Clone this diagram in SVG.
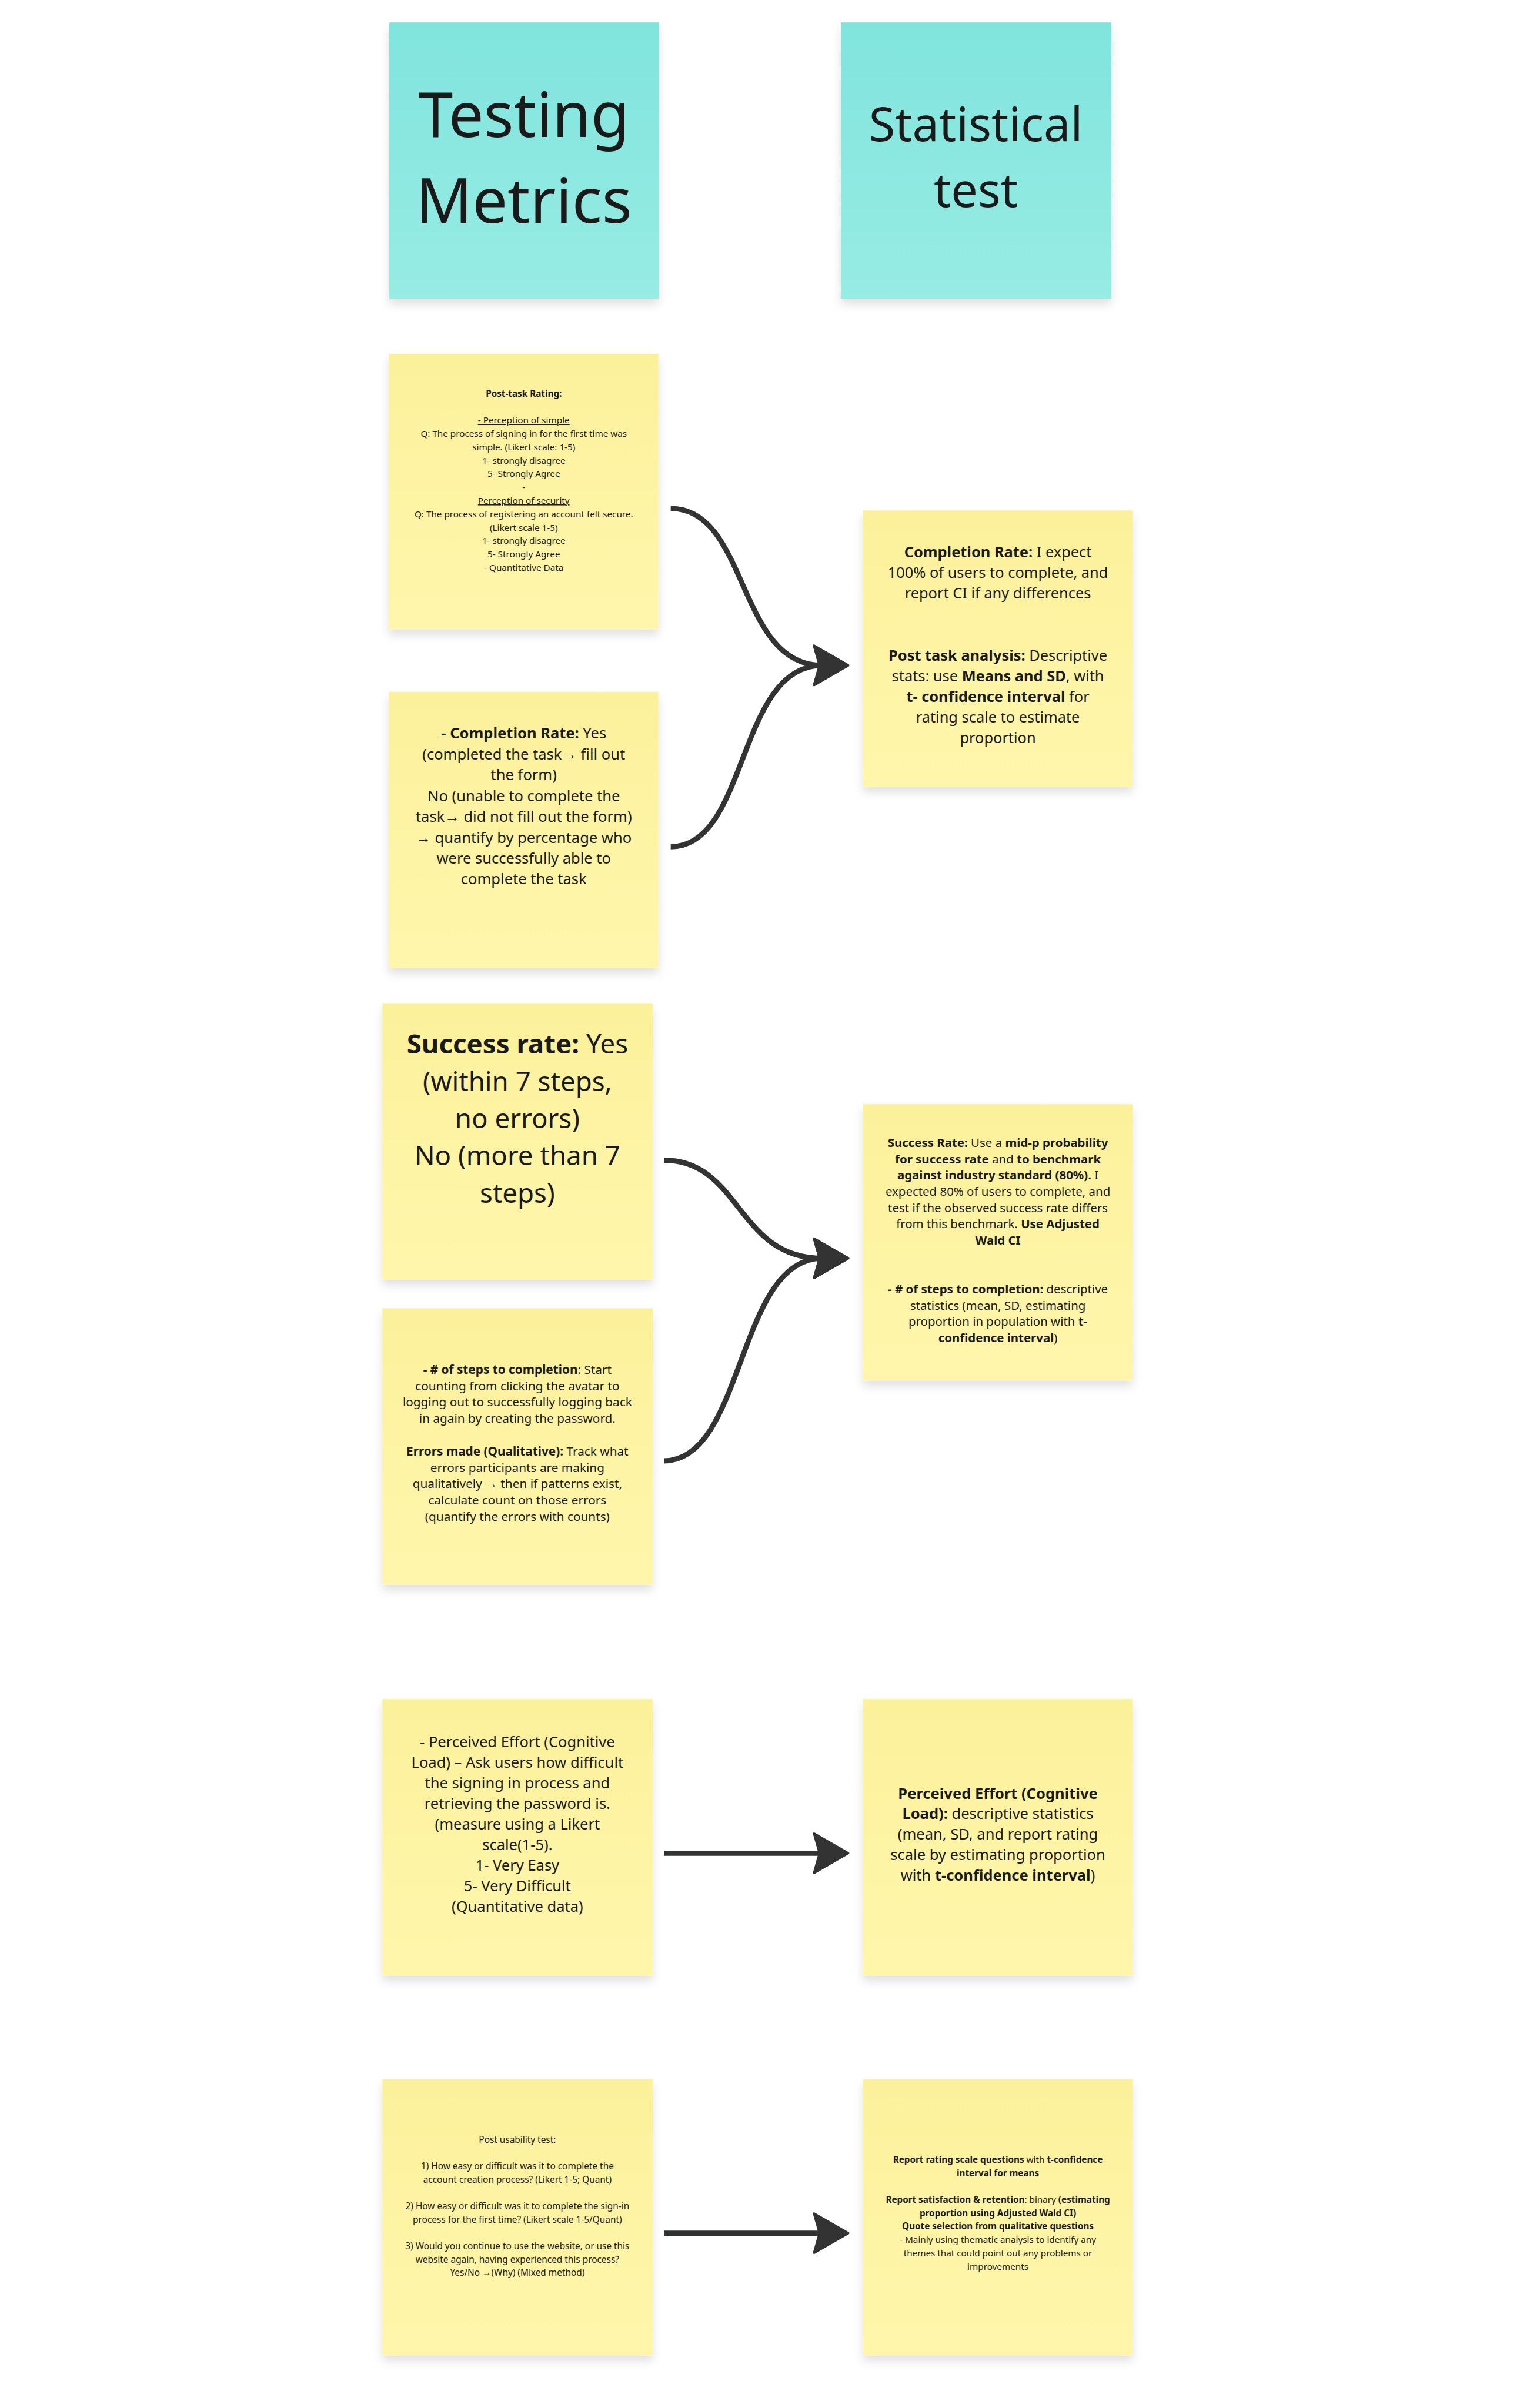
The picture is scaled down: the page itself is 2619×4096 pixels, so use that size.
<svg xmlns="http://www.w3.org/2000/svg" width="2619" height="4096" viewBox="0 0 2619 4096">
<defs>
<style>
.sy{fill:url(#gy);filter:url(#sh)}
.sc{fill:url(#gc);filter:url(#sh)}
text{font-family:"Noto Sans","Open Sans",sans-serif;fill:#1a1a1a;text-anchor:middle}
.b{font-weight:700}
.u{text-decoration:underline}
.c{fill:none;stroke:#333;stroke-width:13;marker-end:url(#ah)}
</style>
<linearGradient id="gy" x1="0" y1="0" x2="0" y2="1"><stop offset="0" stop-color="#FBF19B"/><stop offset="1" stop-color="#FFF6AC"/></linearGradient>
<linearGradient id="gc" x1="0" y1="0" x2="0" y2="1"><stop offset="0" stop-color="#80E4DD"/><stop offset="1" stop-color="#97ECE4"/></linearGradient>
<filter id="sh" x="-10%" y="-10%" width="120%" height="125%"><feDropShadow dx="0" dy="14" stdDeviation="12" flood-color="#000" flood-opacity="0.12"/></filter>
<marker id="ah" markerUnits="userSpaceOnUse" viewBox="-95 -60 105 120" markerWidth="105" markerHeight="120" refX="-65" refY="0" orient="auto" overflow="visible">
<path d="M0,0 L-85,-49 L-71,0 L-85,49 Z" fill="#333" stroke="#333" stroke-width="6" stroke-linejoin="round"/>
</marker>
</defs>
<rect width="2619" height="4096" fill="#fff"/>
<g transform="scale(0.681)">
<g id="header-testing-metrics">
<rect class="sc" x="972" y="56" width="673" height="690"/>
<text x="1308" y="342" font-size="156">Testing</text>
<text x="1308" y="557" font-size="156">Metrics</text>
</g>
<g id="header-statistical-test">
<rect class="sc" x="2100" y="56" width="675" height="690"/>
<text x="2437" y="353" font-size="119">Statistical</text>
<text x="2437" y="517" font-size="119">test</text>
</g>
<g id="post-task-rating" font-size="22.4">
<rect class="sy" x="971" y="884" width="673" height="688"/>
<text x="1308" y="991" class="b">Post-task Rating:</text>
<text x="1308" y="1058" class="u">- Perception of simple </text>
<text x="1308" y="1091">Q: The process of signing in for the first time was</text>
<text x="1308" y="1124.5">simple. (Likert scale: 1-5)</text>
<text x="1308" y="1158">1- strongly disagree</text>
<text x="1308" y="1191.5">5- Strongly Agree</text>
<text x="1308" y="1225">-</text>
<text x="1308" y="1258.5" class="u">Perception of security</text>
<text x="1308" y="1292">Q: The process of registering an account felt secure.</text>
<text x="1308" y="1325.5">(Likert scale 1-5)</text>
<text x="1308" y="1359">1- strongly disagree</text>
<text x="1308" y="1392">5- Strongly Agree</text>
<text x="1308" y="1425.5">- Quantitative Data</text>
</g>
<g id="completion-rate" font-size="37.5">
<rect class="sy" x="971" y="1728" width="673" height="690"/>
<text x="1308" y="1845"><tspan class="b">- Completion Rate:</tspan> Yes</text>
<text x="1308" y="1897">(completed the task→ fill out</text>
<text x="1308" y="1949">the form)</text>
<text x="1308" y="2001">No (unable to complete the</text>
<text x="1308" y="2053">task→ did not fill out the form)</text>
<text x="1308" y="2105">→ quantify by percentage who</text>
<text x="1308" y="2157">were successfully able to</text>
<text x="1308" y="2209">complete the task</text>
</g>
<g id="stat-completion" font-size="37.3">
<rect class="sy" x="2155" y="1275" width="673" height="690"/>
<text x="2492" y="1392"><tspan class="b">Completion Rate:</tspan> I expect</text>
<text x="2492" y="1443.6">100% of users to complete, and</text>
<text x="2492" y="1495.2">report CI if any differences</text>
<text x="2492" y="1650"><tspan class="b">Post task analysis:</tspan> Descriptive</text>
<text x="2492" y="1701.6">stats: use <tspan class="b">Means and SD</tspan>, with</text>
<text x="2492" y="1753.2"><tspan class="b">t- confidence interval</tspan> for</text>
<text x="2492" y="1804.8">rating scale to estimate</text>
<text x="2492" y="1856.4">proportion</text>
</g>
<g id="success-rate" font-size="67">
<rect class="sy" x="955" y="2506" width="675" height="690"/>
<text x="1292" y="2632"><tspan class="b">Success rate:</tspan> Yes</text>
<text x="1292" y="2725">(within 7 steps,</text>
<text x="1292" y="2818">no errors)</text>
<text x="1292" y="2911">No (more than 7</text>
<text x="1292" y="3004">steps)</text>
</g>
<g id="stat-success" font-size="30">
<rect class="sy" x="2155" y="2758" width="673" height="690"/>
<text x="2492" y="2865"><tspan class="b">Success Rate:</tspan> Use a <tspan class="b">mid-p probability</tspan></text>
<text x="2492" y="2905.6"><tspan class="b">for success rate</tspan> and <tspan class="b">to benchmark</tspan></text>
<text x="2492" y="2946.2"><tspan class="b">against industry standard (80%).</tspan> I</text>
<text x="2492" y="2986.8">expected 80% of users to complete, and</text>
<text x="2492" y="3027.4">test if the observed success rate differs</text>
<text x="2492" y="3068">from this benchmark. <tspan class="b">Use Adjusted</tspan></text>
<text x="2492" y="3108.6" class="b">Wald CI</text>
<text x="2492" y="3230.4"><tspan class="b">- # of steps to completion:</tspan> descriptive</text>
<text x="2492" y="3271">statistics (mean, SD, estimating</text>
<text x="2492" y="3311.6">proportion in population with <tspan class="b">t-</tspan></text>
<text x="2492" y="3352.2"><tspan class="b">confidence interval</tspan>)</text>
</g>
<g id="steps-errors" font-size="30.5">
<rect class="sy" x="955" y="3268" width="675" height="690"/>
<text x="1292" y="3431.6"><tspan class="b">- # of steps to completion</tspan>: Start</text>
<text x="1292" y="3472.4">counting from clicking the avatar to</text>
<text x="1292" y="3513.2">logging out to successfully logging back</text>
<text x="1292" y="3554">in again by creating the password.</text>
<text x="1292" y="3635.6"><tspan class="b">Errors made (Qualitative):</tspan> Track what</text>
<text x="1292" y="3676.4">errors participants are making</text>
<text x="1292" y="3717.2">qualitatively → then if patterns exist,</text>
<text x="1292" y="3758">calculate count on those errors</text>
<text x="1292" y="3798.8">(quantify the errors with counts)</text>
</g>
<g id="perceived-effort" font-size="37.5">
<rect class="sy" x="955" y="4244" width="675" height="690"/>
<text x="1292" y="4363.6">- Perceived Effort (Cognitive</text>
<text x="1292" y="4415.1">Load) – Ask users how difficult</text>
<text x="1292" y="4466.6">the signing in process and</text>
<text x="1292" y="4518.1">retrieving the password is.</text>
<text x="1292" y="4569.6">(measure using a Likert</text>
<text x="1292" y="4621.1">scale(1-5).</text>
<text x="1292" y="4672.6">1- Very Easy</text>
<text x="1292" y="4724.1">5- Very Difficult</text>
<text x="1292" y="4775.6">(Quantitative data)</text>
</g>
<g id="stat-effort" font-size="37.5">
<rect class="sy" x="2155" y="4244" width="673" height="690"/>
<text x="2492" y="4492.7" class="b">Perceived Effort (Cognitive</text>
<text x="2492" y="4543.9"><tspan class="b">Load):</tspan> descriptive statistics</text>
<text x="2492" y="4595.1">(mean, SD, and report rating</text>
<text x="2492" y="4646.3">scale by estimating proportion</text>
<text x="2492" y="4697.5">with <tspan class="b">t-confidence interval</tspan>)</text>
</g>
<g id="post-usability" font-size="22.6">
<rect class="sy" x="955" y="5193" width="675" height="690"/>
<text x="1292" y="5352">Post usability test:</text>
<text x="1292" y="5418.6">1) How easy or difficult was it to complete the</text>
<text x="1292" y="5451.9">account creation process? (Likert 1-5; Quant)</text>
<text x="1292" y="5518.5">2) How easy or difficult was it to complete the sign-in</text>
<text x="1292" y="5551.8">process for the first time? (Likert scale 1-5/Quant)</text>
<text x="1292" y="5618.4">3) Would you continue to use the website, or use this</text>
<text x="1292" y="5651.7">website again, having experienced this process?</text>
<text x="1292" y="5685">Yes/No →(Why) (Mixed method)</text>
</g>
<g id="stat-post-usability" font-size="22.4">
<rect class="sy" x="2155" y="5193" width="673" height="690"/>
<text x="2492" y="5402"><tspan class="b">Report rating scale questions</tspan> with <tspan class="b">t-confidence</tspan></text>
<text x="2492" y="5435.4" class="b">interval for means</text>
<text x="2492" y="5502.2"><tspan class="b">Report satisfaction &amp; retention</tspan>: binary <tspan class="b">(estimating</tspan></text>
<text x="2492" y="5535.6" class="b">proportion using Adjusted Wald CI)</text>
<text x="2492" y="5569" class="b">Quote selection from qualitative questions</text>
<text x="2492" y="5602.4">- Mainly using thematic analysis to identify any</text>
<text x="2492" y="5635.8">themes that could point out any problems or</text>
<text x="2492" y="5669.2">improvements</text>
</g>
<g id="connectors">
<path class="c" d="M1675,1270 C1870,1270 1840,1662 2053,1662"/>
<path class="c" d="M1675,2115 C1870,2115 1840,1662 2053,1662"/>
<path class="c" d="M1658,2898 C1850,2898 1840,3143 2053,3143"/>
<path class="c" d="M1658,3649 C1860,3649 1840,3143 2053,3143"/>
<path class="c" d="M1658,4629 L2053,4629"/>
<path class="c" d="M1658,5578 L2053,5578"/>
</g>
</g>
</svg>
